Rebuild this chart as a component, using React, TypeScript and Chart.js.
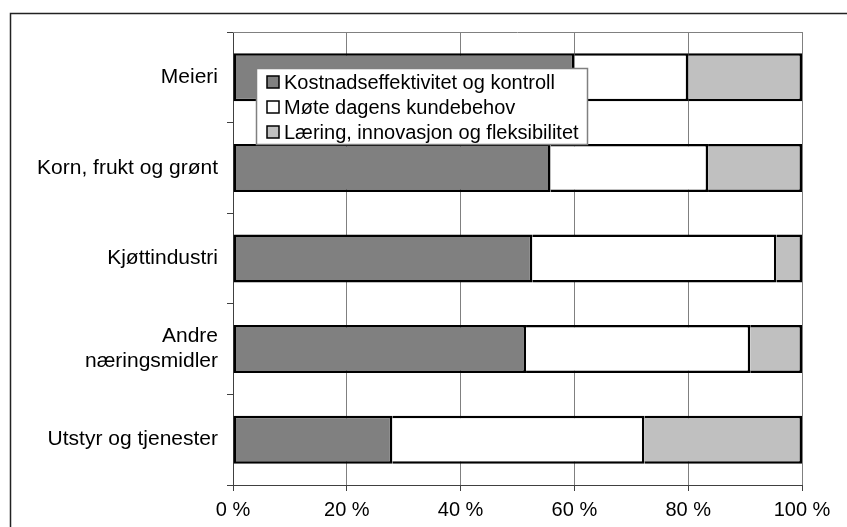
import React, { useEffect, useRef } from "react";
import { Chart, registerables } from "chart.js";

Chart.register(...registerables);

const categories: (string | string[])[] = [
  "Meieri",
  "Korn, frukt og grønt",
  "Kjøttindustri",
  ["Andre", "næringsmidler"],
  "Utstyr og tjenester",
];
const seriesNames = [
  "Kostnadseffektivitet og kontroll",
  "Møte dagens kundebehov",
  "Læring, innovasjon og fleksibilitet",
];
const kostnad = [60, 55.8, 52.6, 51.5, 28];
const kunde = [20, 27.7, 42.9, 39.4, 44.3];
const laering = [20, 16.5, 4.5, 9.1, 27.7];
const seriesColors = ["#808080", "#ffffff", "#c0c0c0"];
const xTicks = [0, 20, 40, 60, 80, 100];

const FONT = "Arial, 'Liberation Sans', sans-serif";

const framePlugin = {
  id: "frame",
  beforeDatasetsDraw(chart: any) {
    const { ctx, chartArea } = chart;
    ctx.save();
    ctx.strokeStyle = "#808080";
    ctx.lineWidth = 1;
    ctx.beginPath();
    ctx.moveTo(chartArea.left, chartArea.top + 0.5);
    ctx.lineTo(chartArea.right, chartArea.top + 0.5);
    ctx.stroke();
    ctx.restore();
  },
  afterDraw(chart: any) {
    const { ctx } = chart;
    ctx.save();
    // outer frame
    ctx.strokeStyle = "#222";
    ctx.lineWidth = 1.5;
    ctx.beginPath();
    ctx.moveTo(10.5, 540);
    ctx.lineTo(10.5, 13.5);
    ctx.lineTo(860, 13.5);
    ctx.stroke();
    // legend
    const lx = 256, ly = 68, lw = 332, lh = 77;
    ctx.fillStyle = "#ffffff";
    ctx.fillRect(lx, ly, lw, lh);
    ctx.strokeStyle = "#808080";
    ctx.lineWidth = 1.5;
    ctx.strokeRect(lx + 0.5, ly + 0.5, lw - 1, lh - 1);
    ctx.font = `20px ${FONT}`;
    ctx.textBaseline = "middle";
    ctx.textAlign = "left";
    seriesNames.forEach((name, i) => {
      const cy = ly + 14 + i * 25;
      ctx.fillStyle = seriesColors[i];
      ctx.fillRect(267, cy - 6, 12, 12);
      ctx.strokeStyle = "#000";
      ctx.lineWidth = 1.5;
      ctx.strokeRect(267, cy - 6, 12, 12);
      ctx.fillStyle = "#000";
      ctx.fillText(name, 284, cy + 1);
    });
    ctx.restore();
  },
};

export default function App() {
  const ref = useRef<HTMLCanvasElement | null>(null);
  useEffect(() => {
    if (!ref.current) return;
    const values = [kostnad, kunde, laering];
    const chart = new Chart(ref.current, {
      type: "bar",
      data: {
        labels: categories as any,
        datasets: seriesNames.map((name, i) => ({
          label: name,
          data: values[i],
          backgroundColor: seriesColors[i],
          borderColor: "#000000",
          borderWidth: 2.5,
          borderSkipped: i === 0 ? false : "start",
          barPercentage: 0.53,
          categoryPercentage: 1,
        })),
      },
      options: {
        indexAxis: "y",
        responsive: false,
        animation: false,
        events: [],
        layout: { padding: { left: 0, top: 32, right: 45, bottom: 0 } },
        plugins: { legend: { display: false }, tooltip: { enabled: false } },
        scales: {
          x: {
            stacked: true,
            min: 0,
            max: 100,
            afterBuildTicks: (scale: any) => {
              scale.ticks = xTicks.map((v) => ({ value: v }));
            },
            afterFit: (scale: any) => {
              scale.height = 42;
              scale.paddingLeft = 0;
              scale.paddingRight = 0;
            },
            ticks: {
              callback: (v: any) => `${v} %`,
              color: "#000",
              font: { family: FONT, size: 20 },
              padding: 7,
              maxRotation: 0,
              autoSkip: false,
            },
            grid: { color: "#808080", lineWidth: 1, tickLength: 6, tickColor: "#404040" },
            border: { color: "#404040", width: 1 },
          },
          y: {
            stacked: true,
            afterFit: (scale: any) => {
              scale.width = 233;
              scale.paddingTop = 0;
              scale.paddingBottom = 0;
            },
            ticks: {
              color: "#000",
              font: { family: FONT, size: 21, lineHeight: 1.2 },
              padding: 9,
              autoSkip: false,
            },
            grid: {
              offset: true,
              drawOnChartArea: false,
              tickLength: 6,
              color: "#404040",
            },
            border: { color: "#404040", width: 1 },
          },
        },
      },
      plugins: [framePlugin],
    } as any);
    return () => chart.destroy();
  }, []);
  return (
    <div style={{ position: "absolute", left: 0, top: 0, width: 847, height: 527, background: "#fff" }}>
      <canvas ref={ref} width={847} height={527} style={{ display: "block", width: 847, height: 527 }} />
    </div>
  );
}
